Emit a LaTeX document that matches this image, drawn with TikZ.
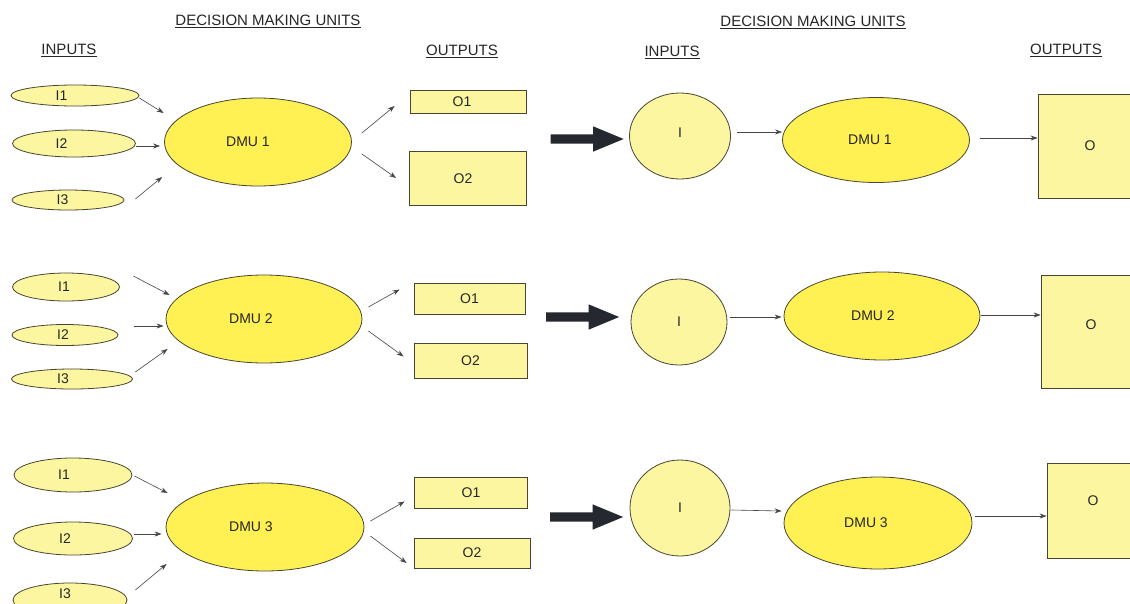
\documentclass[tikz,border=0pt]{standalone}
\usepackage{fontspec}
\setmainfont{Liberation Sans}
\usetikzlibrary{shapes.geometric,shapes.arrows,arrows.meta,calc}
\definecolor{paleyel}{RGB}{253,246,160}
\definecolor{dmuyel}{RGB}{255,240,84}
\definecolor{rim}{RGB}{72,70,50}
\definecolor{linkgray}{RGB}{70,70,70}
\definecolor{bigarrow}{RGB}{38,40,48}
% trailing kern shifts a label left of its shape's centre by half the amount
\newcommand{\lft}[1]{\kern#1pt}

\begin{document}
\begin{tikzpicture}[x=1pt,y=-1pt,
  every node/.style={font=\fontsize{14}{16}\selectfont, inner sep=0pt, text=black!85},
  inp/.style={ellipse, draw=rim, fill=paleyel, line width=0.8pt},
  dmu/.style={ellipse, draw=rim, fill=dmuyel, line width=0.8pt},
  outbox/.style={rectangle, draw=rim, fill=paleyel, line width=0.8pt},
  heading/.style={font=\fontsize{15}{17}\selectfont},
  link/.style={draw=linkgray, line width=0.6pt, -{Stealth[length=7pt,width=5pt]}},
  fat/.style={single arrow, fill=bigarrow, draw=none, single arrow head extend=8pt,
              single arrow tip angle=45, minimum height=73pt, inner sep=4.5pt}
]
\useasboundingbox (0,0) rectangle (1130,603);
\clip (0,0) rectangle (1130,603);
\fill[white] (0,0) rectangle (1130,603);

% headings
\node[heading] (tl) at (268,21) {\underline{DECISION MAKING UNITS}};
\node[heading] (il) at (69,50) {\underline{INPUTS}};
\node[heading] (ol) at (462,51) {\underline{OUTPUTS}};
\node[heading] (tr) at (813,22) {\underline{DECISION MAKING UNITS}};
\node[heading] (ir) at (672,52) {\underline{INPUTS}};
\node[heading] (or) at (1066,50) {\underline{OUTPUTS}};

% ---------- unit 1 ----------
\node[inp, minimum width=128pt, minimum height=21pt] (a1) at (75,95.5) {I1\lft{27}};
\node[inp, minimum width=123pt, minimum height=27pt] (b1) at (74,143.5) {I2\lft{25}};
\node[inp, minimum width=112pt, minimum height=20pt] (g1) at (68,200) {I3\lft{11}};
\node[dmu, minimum width=187pt, minimum height=88pt] (d1) at (258,142) {DMU 1\lft{20}};
\node[outbox, minimum width=116pt, minimum height=23pt] (p1) at (468,102) {O1\lft{12}};
\node[outbox, minimum width=117pt, minimum height=54pt] (q1) at (468,178.5) {O2\lft{10}};
\node[fat] (f1) at (581.5,139) {};
\node[inp, minimum width=101pt, minimum height=86pt, text depth=6pt] (c1) at (680,136) {I};
\node[dmu, minimum width=187pt, minimum height=85pt] (e1) at (876,140) {DMU 1\lft{12}};
\node[outbox, minimum width=104pt, minimum height=104pt] (s1) at (1090,146) {O};

\draw[link] ($(a1.east)+(0,2.5)$) -- ($(d1.west)+(-0.5,-29)$);
\draw[link] ($(b1.east)+(0,2.5)$) -- ($(d1.west)+(-4,4)$);
\draw[link] ($(g1.east)+(11,-1)$) -- ($(d1.west)+(-2,35)$);
\draw[link] ($(d1.east)+(10,-9)$) -- ($(p1.west)+(-15,4)$);
\draw[link] ($(d1.east)+(10,12)$) -- ($(q1.west)+(-13,-0.5)$);
\draw[link] ($(c1.east)+(6.5,-4)$) -- ($(e1.west)+(0,-8)$);
\draw[link] ($(e1.east)+(10.5,-2)$) -- ($(s1.west)+(0,-8)$);

% ---------- unit 2 ----------
\node[inp, minimum width=107pt, minimum height=28pt] (a2) at (66,287) {I1\lft{4}};
\node[inp, minimum width=106pt, minimum height=21pt] (b2) at (65,335) {I2\lft{4}};
\node[inp, minimum width=121pt, minimum height=20pt] (g2) at (72,379) {I3\lft{18}};
\node[dmu, minimum width=196pt, minimum height=88pt] (d2) at (264,319) {DMU 2\lft{26}};
\node[outbox, minimum width=111pt, minimum height=31pt] (p2) at (469.5,298.5) {O1};
\node[outbox, minimum width=113pt, minimum height=35pt] (q2) at (470.5,360.5) {O2};
\node[fat] (f2) at (577,317) {};
\node[inp, minimum width=96pt, minimum height=86pt] (c2) at (679,322) {I};
\node[dmu, minimum width=196pt, minimum height=88pt] (e2) at (882,316) {DMU 2\lft{18}};
\node[outbox, minimum width=100pt, minimum height=113pt, text depth=13pt] (s2) at (1091,331.5) {O};

\draw[link] ($(a2.east)+(13.5,-11)$) -- ($(d2.west)+(4,-24)$);
\draw[link] ($(b2.east)+(16,-9)$) -- ($(d2.west)+(-2,7)$);
\draw[link] ($(g2.east)+(2.5,-7)$) -- ($(d2.west)+(2,30)$);
\draw[link] ($(d2.east)+(6,-12)$) -- ($(p2.west)+(-14,-9)$);
\draw[link] ($(d2.east)+(6,12)$) -- ($(q2.west)+(-10,-4)$);
\draw[link] ($(c2.east)+(3,-5)$) -- ($(e2.west)+(-2,1)$);
\draw[link] ($(e2.east)+(1,-1)$) -- ($(s2.west)+(0,-16.5)$);

% ---------- unit 3 ----------
\node[inp, minimum width=118pt, minimum height=34pt] (a3) at (73,475) {I1\lft{18}};
\node[inp, minimum width=119pt, minimum height=33pt] (b3) at (73,538.5) {I2\lft{16}};
\node[inp, minimum width=114pt, minimum height=34pt, text depth=12pt] (g3) at (70,600) {I3\lft{10}};
\node[dmu, minimum width=198pt, minimum height=88pt] (d3) at (265,527) {DMU 3\lft{28}};
\node[outbox, minimum width=113pt, minimum height=31pt] (p3) at (471,492.5) {O1};
\node[outbox, minimum width=116pt, minimum height=30pt] (q3) at (472,553) {O2};
\node[fat] (f3) at (581,517) {};
\node[inp, minimum width=100pt, minimum height=96pt] (c3) at (680,508) {I};
\node[dmu, minimum width=188pt, minimum height=92pt] (e3) at (878,523) {DMU 3\lft{24}};
\node[outbox, minimum width=92pt, minimum height=95pt, text depth=20pt] (s3) at (1093,510.5) {O};

\draw[link] ($(a3.east)+(2,1)$) -- ($(d3.west)+(2,-34)$);
\draw[link] ($(b3.east)+(1.5,-4.5)$) -- ($(d3.west)+(-4,7)$);
\draw[link] ($(g3.east)+(8,-10)$) -- ($(d3.west)+(1,37)$);
\draw[link] ($(d3.east)+(6,-6)$) -- ($(p3.west)+(-9.5,9)$);
\draw[link] ($(d3.east)+(6,9)$) -- ($(q3.west)+(-7,10)$);
\draw[link] ($(c3.east)+(1,2)$) -- ($(e3.west)+(-2,-12)$);
\draw[link] ($(e3.east)+(3,-7)$) -- ($(s3.west)+(0,5.5)$);
\end{tikzpicture}
\end{document}
